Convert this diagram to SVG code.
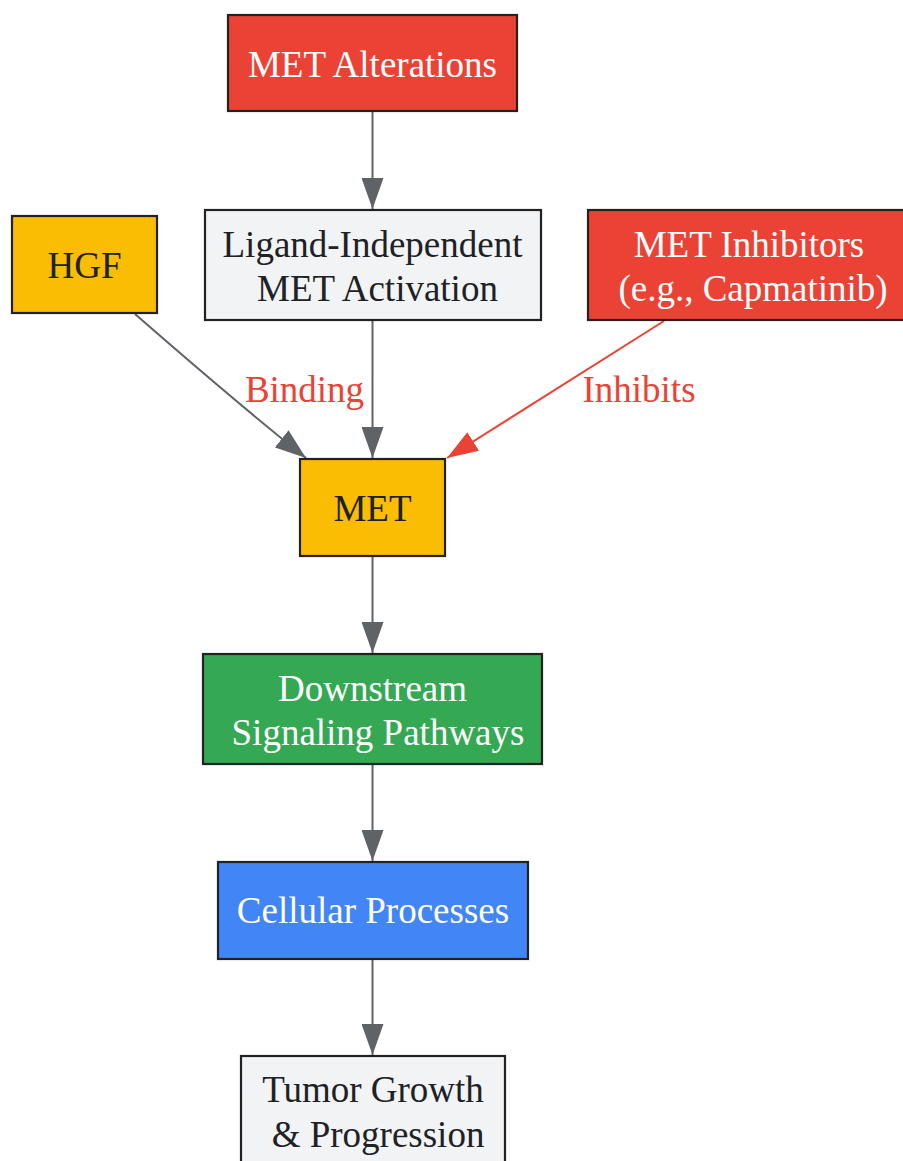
<svg xmlns="http://www.w3.org/2000/svg" width="903" height="1161" viewBox="0 0 903 1161">
<style>
.n{stroke:#222;stroke-width:2.2}
.red{fill:#EA4335}
.yel{fill:#FBBC04}
.gry{fill:#F1F3F4}
.grn{fill:#34A853}
.blu{fill:#4285F4}
text{font-family:"Liberation Serif","Times New Roman",serif;font-size:37px;text-anchor:middle}
.w{fill:#ffffff}
.d{fill:#202124}
.lbl{fill:#EA4335}
.e{fill:none;stroke:#5F6368;stroke-width:2}
.er{fill:none;stroke:#EA4335;stroke-width:2}
</style>
<defs>
<marker id="ag" viewBox="0 0 10 10" refX="10" refY="5" markerWidth="31" markerHeight="22" markerUnits="userSpaceOnUse" preserveAspectRatio="none" orient="auto"><path d="M0,0 L10,5 L0,10 z" fill="#5F6368"/></marker>
<marker id="ar" viewBox="0 0 10 10" refX="10" refY="5" markerWidth="31" markerHeight="22" markerUnits="userSpaceOnUse" preserveAspectRatio="none" orient="auto"><path d="M0,0 L10,5 L0,10 z" fill="#EA4335"/></marker>
</defs>
<rect width="903" height="1161" fill="#ffffff"/>
<g id="edges">
<path class="e" d="M372.5,112 L372.5,209" marker-end="url(#ag)"/>
<path class="e" d="M372.5,321 L372.5,458" marker-end="url(#ag)"/>
<path class="e" d="M135,314 C190,362 258,420 306,458" marker-end="url(#ag)"/>
<path class="er" d="M664,321 L447,458" marker-end="url(#ar)"/>
<path class="e" d="M372.5,557 L372.5,653" marker-end="url(#ag)"/>
<path class="e" d="M372.5,765 L372.5,861" marker-end="url(#ag)"/>
<path class="e" d="M372.5,960 L372.5,1055" marker-end="url(#ag)"/>
<text class="lbl" x="304.5" y="402">Binding</text>
<text class="lbl" x="639" y="402">Inhibits</text>
</g>
<g id="met_alterations">
<rect class="n red" x="228" y="15" width="289" height="96"/>
<text class="w" x="372.5" y="77">MET Alterations</text>
</g>
<g id="hgf">
<rect class="n yel" x="12" y="216" width="145" height="97"/>
<text class="d" x="84.5" y="278">HGF</text>
</g>
<g id="ligand_independent">
<rect class="n gry" x="205" y="210" width="336" height="110"/>
<text class="d" x="372.5" y="257">Ligand-Independent</text>
<text class="d" x="377.5" y="301">MET Activation</text>
</g>
<g id="met_inhibitors">
<rect class="n red" x="588" y="210" width="321" height="110"/>
<text class="w" x="749" y="257">MET Inhibitors</text>
<text class="w" x="753" y="301">(e.g., Capmatinib)</text>
</g>
<g id="met">
<rect class="n yel" x="300" y="459" width="145" height="97"/>
<text class="d" x="372.5" y="521">MET</text>
</g>
<g id="downstream">
<rect class="n grn" x="203" y="654" width="339" height="110"/>
<text class="w" x="372.5" y="701">Downstream</text>
<text class="w" x="378" y="745">Signaling Pathways</text>
</g>
<g id="cellular">
<rect class="n blu" x="218" y="862" width="310" height="97"/>
<text class="w" x="373" y="923">Cellular Processes</text>
</g>
<g id="tumor">
<rect class="n gry" x="241" y="1056" width="264" height="110"/>
<text class="d" x="373" y="1102">Tumor Growth</text>
<text class="d" x="378" y="1147">&amp; Progression</text>
</g>
</svg>
